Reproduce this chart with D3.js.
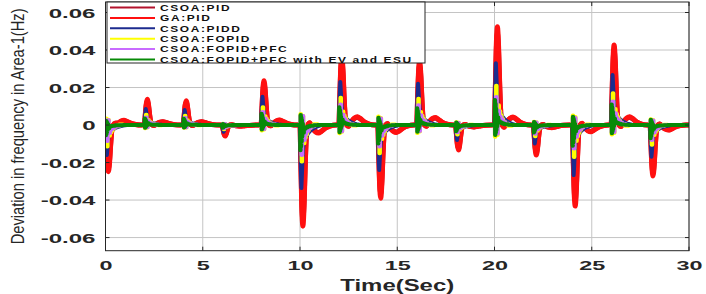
<!DOCTYPE html>
<html>
<head>
<meta charset="utf-8">
<script src="https://cdn.jsdelivr.net/npm/d3@7"></script>
<style>
  body { margin: 0; background: #ffffff; }
  svg { display: block; }
</style>
</head>
<body>
<div id="chart"></div>
<script>
// Load change instants (s): one step disturbance every 2 seconds
var eventTimes = [0, 2, 4, 6, 8, 10, 12, 14, 16, 18, 20, 22, 24, 26, 28];

var seriesNames = ["CSOA:PID", "GA:PID", "CSOA:PIDD", "CSOA:FOPID", "CSOA:FOPID+PFC",
    "CSOA:FOPID+PFC with EV and ESU"];
var seriesColors = ["#b3122c", "#ff1010", "#1c2b8e", "#ffff00", "#c86bff", "#078a07"];

// First peak of each response after every load change (Hz)
var csoaPidPeaks = [-0.0232, 0.0128, 0.0122, -0.0055, 0.0221, -0.0505, 0.0346, -0.0366, 0.0322, -0.0124, 0.0488, -0.0150, -0.0405, 0.0400, -0.0255];
var gaPidPeaks = [-0.0249, 0.0137, 0.0130, -0.0059, 0.0236, -0.0539, 0.0370, -0.0390, 0.0345, -0.0133, 0.0524, -0.0160, -0.0432, 0.0427, -0.0272];
var piddPeaks = [-0.0160, 0.0085, 0.0080, -0.0036, 0.0151, -0.0336, 0.0230, -0.0240, 0.0220, -0.0080, 0.0330, -0.0098, -0.0267, 0.0267, -0.0169];
var fopidPeaks = [-0.0115, 0.0055, 0.0050, -0.0022, 0.0095, -0.0195, 0.0145, -0.0150, 0.0140, -0.0050, 0.0210, -0.0060, -0.0170, 0.0170, -0.0105];
var pfcPeaks = [-0.0085, 0.0040, 0.0038, -0.0017, 0.0070, -0.0160, 0.0110, -0.0115, 0.0105, -0.0038, 0.0150, -0.0046, -0.0125, 0.0125, -0.0080];
var evEsuPeaks = [-0.0055, 0.0035, 0.0033, -0.0015, 0.0060, -0.0135, 0.0095, -0.0098, 0.0090, -0.0033, 0.0133, -0.0040, -0.0110, 0.0110, -0.0070];

// Slow second hump of the PID responses (Hz)
var csoaPidHumps = [0.0023, 0.0017, 0.0017, -0.0005, 0.0025, -0.0040, 0.0041, -0.0037, 0.0037, -0.0010, 0.0040, -0.0013, -0.0033, 0.0041, -0.0025];
var gaPidHumps = [0.0025, 0.0018, 0.0018, -0.0006, 0.0027, -0.0043, 0.0044, -0.0040, 0.0040, -0.0010, 0.0043, -0.0014, -0.0036, 0.0044, -0.0027];

// Response shapes after a load change: [seconds after change, weight of peak, weight of hump]
var pidShape = [[0, 0, 0], [0.04, 0.35, 0], [0.09, 0.8, 0], [0.15, 1, 0], [0.21, 0.8, 0], [0.27, 0.4, 0],
    [0.33, 0.1, 0], [0.4, 0, 0], [0.5, -0.03, 0.1], [0.65, 0, 0.45], [0.8, 0, 0.85], [0.95, 0, 1],
    [1.1, 0, 0.8], [1.3, 0, 0.4], [1.55, 0, 0.12], [1.85, 0, 0], [1.95, 0, 0]];
var piddShape = [[0, 0], [0.03, 0.5], [0.07, 1], [0.11, 0.7], [0.15, 0.4], [0.2, 0.25], [0.3, 0.2],
    [0.4, 0.14], [0.5, 0.1], [0.6, 0.07], [0.75, 0.04], [0.9, 0.02], [1.1, 0], [1.95, 0]];
var fopidShape = [[0, 0], [0.02, -0.3], [0.05, 0.6], [0.08, 1], [0.11, 0.3], [0.14, -0.25], [0.17, 0.5],
    [0.23, 0.35], [0.3, 0.25], [0.37, 0.15], [0.45, 0.08], [0.55, 0.03], [0.7, -0.02], [0.9, 0], [1.95, 0]];
var pfcShape = [[0, 0], [0.02, -0.3], [0.05, 0.7], [0.08, 1], [0.11, 0.2], [0.14, -0.3], [0.17, 0.5],
    [0.24, 0.3], [0.32, 0.2], [0.42, 0.1], [0.55, 0.04], [0.75, 0], [1.95, 0]];
var evEsuShape = [[0, 0], [0.015, 1], [0.03, -0.4], [0.045, 0.85], [0.06, -0.3], [0.075, 0.65],
    [0.09, -0.2], [0.105, 0.45], [0.12, -0.05], [0.15, 0.3], [0.2, 0.15], [0.28, 0.1], [0.38, 0.06],
    [0.5, 0.03], [0.7, 0.01], [0.9, 0], [1.95, 0]];

// Axis ticks
var xTickValues = [0, 5, 10, 15, 20, 25, 30];
var yTickValues = [-0.06, -0.04, -0.02, 0, 0.02, 0.04, 0.06];
var yTickLabels = ["-0.06", "-0.04", "-0.02", "0", "0.02", "0.04", "0.06"];

// Chart dimensions
var svgWidth = 706;
var svgHeight = 294;
var margin = { top: 2, right: 17, bottom: 43.3, left: 105.5 };
var plotWidth = svgWidth - margin.left - margin.right;
var plotHeight = svgHeight - margin.top - margin.bottom;

var tickFont = "'Liberation Sans', Arial, sans-serif";

// Turn one response shape + per-event amplitudes into a time series
function buildSeries(shape, peaks, humps) {
    var points = [];
    eventTimes.forEach(function (t0, i) {
        shape.forEach(function (row) {
            var v = peaks[i] * row[1];
            if (humps) v += humps[i] * row[2];
            points.push({ t: t0 + row[0], v: v });
        });
    });
    points.push({ t: 30, v: 0 });
    return points;
}

var seriesData = [
    { data: buildSeries(pidShape, csoaPidPeaks, csoaPidHumps), curve: d3.curveMonotoneX, width: 5 },
    { data: buildSeries(pidShape, gaPidPeaks, gaPidHumps), curve: d3.curveMonotoneX, width: 5 },
    { data: buildSeries(piddShape, piddPeaks), curve: d3.curveLinear, width: 4 },
    { data: buildSeries(fopidShape, fopidPeaks), curve: d3.curveStepAfter, width: 4 },
    { data: buildSeries(pfcShape, pfcPeaks), curve: d3.curveStepAfter, width: 4 },
    { data: buildSeries(evEsuShape, evEsuPeaks), curve: d3.curveStepAfter, width: 4 }
];

var svg = d3.select("#chart")
    .append("svg")
    .attr("width", svgWidth)
    .attr("height", svgHeight);

svg.append("rect")
    .attr("width", svgWidth)
    .attr("height", svgHeight)
    .attr("fill", "#ffffff");

var g = svg.append("g")
    .attr("transform", "translate(" + margin.left + "," + margin.top + ")");

var x = d3.scaleLinear().domain([0, 30]).range([0, plotWidth]);
var y = d3.scaleLinear().domain([-0.067, 0.0656]).range([plotHeight, 0]);

// Grid lines
g.append("g")
    .attr("class", "grid")
    .selectAll("line.vx")
    .data(xTickValues)
    .enter()
    .append("line")
    .attr("x1", d => x(d)).attr("x2", d => x(d))
    .attr("y1", 0).attr("y2", plotHeight)
    .attr("stroke", "#c4c4c4")
    .attr("stroke-width", 1);

g.append("g")
    .attr("class", "grid")
    .selectAll("line.hy")
    .data(yTickValues)
    .enter()
    .append("line")
    .attr("x1", 0).attr("x2", plotWidth)
    .attr("y1", d => y(d)).attr("y2", d => y(d))
    .attr("stroke", "#c4c4c4")
    .attr("stroke-width", 1);

// Series
g.append("clipPath")
    .attr("id", "plotClip")
    .append("rect")
    .attr("width", plotWidth)
    .attr("height", plotHeight);

var lineGen = d3.line()
    .x(d => x(d.t))
    .y(d => y(d.v));

g.append("g")
    .attr("clip-path", "url(#plotClip)")
    .selectAll("path.series")
    .data(seriesData)
    .enter()
    .append("path")
    .attr("class", "series")
    .attr("fill", "none")
    .attr("stroke", (d, i) => seriesColors[i])
    .attr("stroke-width", d => d.width)
    .attr("stroke-linejoin", "round")
    .attr("d", d => lineGen.curve(d.curve)(d.data));

// Axes (labels only, box drawn separately)
var xAxis = g.append("g")
    .attr("transform", "translate(0," + plotHeight + ")")
    .call(d3.axisBottom(x).tickValues(xTickValues).tickSize(0).tickFormat(d3.format("d")));

xAxis.select(".domain").remove();
xAxis.selectAll("text")
    .attr("y", 0)
    .attr("dy", 0)
    .attr("transform", "translate(0,19) scale(1.8,1)")
    .attr("font-family", tickFont)
    .attr("font-weight", "bold")
    .attr("font-size", "13px")
    .attr("fill", "#262626");

var yAxis = g.append("g")
    .call(d3.axisLeft(y).tickValues(yTickValues).tickSize(0)
        .tickFormat((d, i) => yTickLabels[i]));

yAxis.select(".domain").remove();
yAxis.selectAll("text")
    .attr("x", 0)
    .attr("dy", "0.36em")
    .attr("text-anchor", "end")
    .attr("transform", "translate(-10,0) scale(1.85,1)")
    .attr("font-family", tickFont)
    .attr("font-weight", "bold")
    .attr("font-size", "13px")
    .attr("fill", "#262626");

// Ticks on all four sides, MATLAB style
var tickLen = 4;
xTickValues.forEach(function (v) {
    g.append("line").attr("x1", x(v)).attr("x2", x(v)).attr("y1", plotHeight).attr("y2", plotHeight - tickLen)
        .attr("stroke", "#262626");
    g.append("line").attr("x1", x(v)).attr("x2", x(v)).attr("y1", 0).attr("y2", tickLen)
        .attr("stroke", "#262626");
});
yTickValues.forEach(function (v) {
    g.append("line").attr("x1", 0).attr("x2", tickLen).attr("y1", y(v)).attr("y2", y(v))
        .attr("stroke", "#262626");
    g.append("line").attr("x1", plotWidth).attr("x2", plotWidth - tickLen).attr("y1", y(v)).attr("y2", y(v))
        .attr("stroke", "#262626");
});

// Axes box
g.append("rect")
    .attr("width", plotWidth)
    .attr("height", plotHeight)
    .attr("fill", "none")
    .attr("stroke", "#262626")
    .attr("stroke-width", 1);

// Axis titles
svg.append("text")
    .attr("transform", "translate(" + (margin.left + plotWidth / 2) + ",291) scale(1.45,1)")
    .attr("text-anchor", "middle")
    .attr("font-family", tickFont)
    .attr("font-weight", "bold")
    .attr("font-size", "16.5px")
    .attr("fill", "#262626")
    .text("Time(Sec)");

// Y title: condensed to fit the plot height, like the narrow font of the original
var yTitle = svg.append("text")
    .attr("text-anchor", "middle")
    .attr("font-family", "'Liberation Sans Narrow', 'Liberation Sans', Arial, sans-serif")
    .attr("font-size", "19px")
    .attr("fill", "#262626")
    .text("Deviation in frequency in Area-1(Hz)");

var yTitleScale = 236 / yTitle.node().getComputedTextLength();
yTitle.attr("transform", "translate(24," + (margin.top + plotHeight / 2) + ") rotate(-90) scale(" +
    yTitleScale + ",1)");

// Legend
var legend = g.append("g")
    .attr("transform", "translate(1.5,0)");

legend.append("rect")
    .attr("width", 318)
    .attr("height", 61)
    .attr("fill", "#ffffff")
    .attr("stroke", "#262626")
    .attr("stroke-width", 1);

var legendItems = legend.selectAll("g.item")
    .data(seriesNames)
    .enter()
    .append("g")
    .attr("class", "item")
    .attr("transform", (d, i) => "translate(0," + (5.5 + i * 10.4) + ")");

legendItems.append("line")
    .attr("x1", 3).attr("x2", 48)
    .attr("y1", 0).attr("y2", 0)
    .attr("stroke", (d, i) => seriesColors[i])
    .attr("stroke-width", 2);

legendItems.append("text")
    .attr("transform", "translate(53,0) scale(1.33,1)")
    .attr("dy", "0.36em")
    .attr("font-family", tickFont)
    .attr("font-weight", "bold")
    .attr("font-size", "9px")
    .attr("letter-spacing", "1.2px")
    .attr("fill", "#111111")
    .text(d => d);
</script>
</body>
</html>
